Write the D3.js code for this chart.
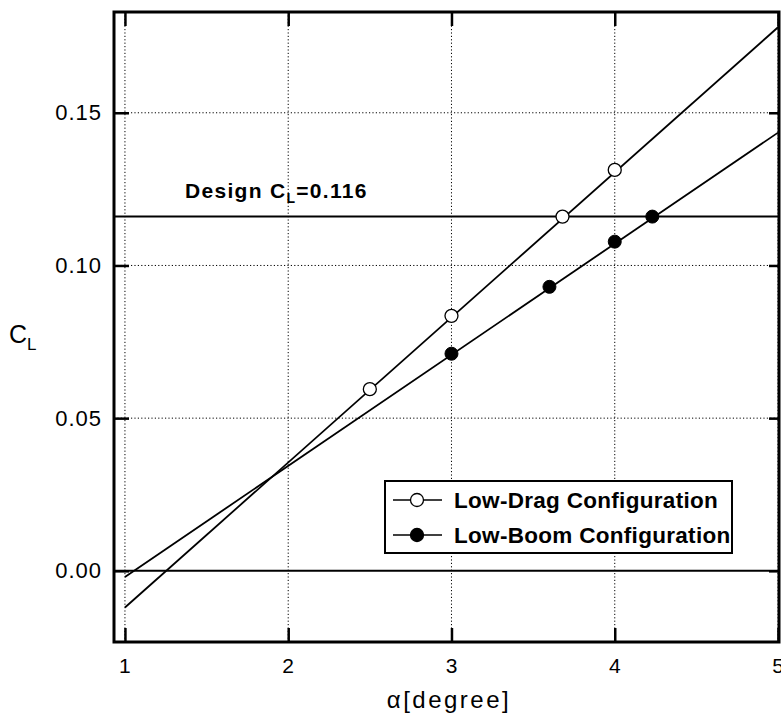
<!DOCTYPE html>
<html><head><meta charset="utf-8">
<script src="https://cdn.jsdelivr.net/npm/d3@7"></script>
<style>
body{margin:0;background:#fff;}
text{font-family:"Liberation Sans",Arial,Helvetica,sans-serif;fill:#000;}
</style></head>
<body>
<svg id="chart" width="781" height="716"></svg>
<script>
// ---- data ----
const xTicks = [1, 2, 3, 4, 5];
const yTicks = [0.00, 0.05, 0.10, 0.15];
const yTickLabels = ["0.00", "0.05", "0.10", "0.15"];
const lowDragAlpha = [2.5, 3.0, 3.68, 4.0];
const lowDragCL = [0.0595, 0.0835, 0.116, 0.1313];
const lowBoomAlpha = [3.0, 3.6, 4.0, 4.23];
const lowBoomCL = [0.0711, 0.093, 0.1078, 0.116];
const lowDragFitAlpha = [1, 5];
const lowDragFitCL = [-0.012, 0.178];
const lowBoomFitAlpha = [1, 5];
const lowBoomFitCL = [-0.002, 0.1435];
const designCL = 0.116;
const seriesNames = ["Low-Drag Configuration", "Low-Boom Configuration"];

// ---- layout ----
const svg = d3.select("#chart");
const L = 114, R = 779, T = 12, B = 642;
const x = d3.scaleLinear().domain([0.933, 5.006]).range([L, R]);
const y = d3.scaleLinear().domain([-0.0233, 0.183]).range([B, T]);

const g = svg.append("g");
svg.append("defs").append("clipPath").attr("id","clip")
  .append("rect").attr("x",L).attr("y",T).attr("width",R-L).attr("height",B-T);

// grid
g.selectAll(".gx").data(xTicks).enter().append("line")
  .attr("x1",d=>x(d)).attr("x2",d=>x(d)).attr("y1",T).attr("y2",B)
  .attr("stroke","#000").attr("stroke-width",1).attr("stroke-dasharray","1.2,2.2");
g.selectAll(".gy").data(yTicks.filter(d=>d!==0)).enter().append("line")
  .attr("x1",L).attr("x2",R).attr("y1",d=>y(d)).attr("y2",d=>y(d))
  .attr("stroke","#000").attr("stroke-width",1).attr("stroke-dasharray","1.2,2.2");

// zero line & design line
g.append("line").attr("x1",L).attr("x2",R).attr("y1",y(0)).attr("y2",y(0))
  .attr("stroke","#000").attr("stroke-width",2);
g.append("line").attr("x1",L).attr("x2",R).attr("y1",y(designCL)).attr("y2",y(designCL))
  .attr("stroke","#000").attr("stroke-width",2);

// fit lines
const line = d3.line().x(d=>x(d[0])).y(d=>y(d[1]));
const plot = g.append("g").attr("clip-path","url(#clip)");
plot.append("path").datum(lowDragFitAlpha.map((a,i)=>[a,lowDragFitCL[i]]))
  .attr("d",line).attr("fill","none").attr("stroke","#000").attr("stroke-width",1.8);
plot.append("path").datum(lowBoomFitAlpha.map((a,i)=>[a,lowBoomFitCL[i]]))
  .attr("d",line).attr("fill","none").attr("stroke","#000").attr("stroke-width",1.8);

// markers
plot.selectAll(".ld").data(lowDragAlpha.map((a,i)=>[a,lowDragCL[i]])).enter().append("circle")
  .attr("cx",d=>x(d[0])).attr("cy",d=>y(d[1])).attr("r",6.5)
  .attr("fill","#fff").attr("stroke","#000").attr("stroke-width",1.3);
plot.selectAll(".lb").data(lowBoomAlpha.map((a,i)=>[a,lowBoomCL[i]])).enter().append("circle")
  .attr("cx",d=>x(d[0])).attr("cy",d=>y(d[1])).attr("r",6.5)
  .attr("fill","#000").attr("stroke","#000").attr("stroke-width",1);

// axes via d3 (inward ticks, labels)
const xAxisB = d3.axisBottom(x).tickValues(xTicks).tickSize(-14).tickPadding(16).tickFormat(d3.format("d"));
const xAxisT = d3.axisTop(x).tickValues(xTicks).tickSize(-14).tickFormat("");
const yAxisL = d3.axisLeft(y).tickValues(yTicks).tickSize(-15).tickPadding(12).tickFormat((d,i)=>yTickLabels[i]);
const yAxisR = d3.axisRight(y).tickValues(yTicks).tickSize(-10).tickFormat("");
function styleAxis(sel, fs){
  sel.select(".domain").remove();
  sel.selectAll(".tick line").attr("stroke","#000").attr("stroke-width",2.5);
  sel.selectAll(".tick text").style("font-size",fs+"px").attr("fill","#000")
     .style("letter-spacing","1px")
     .style("font-family","'Liberation Sans',Arial,sans-serif");
}
svg.append("g").attr("transform",`translate(0,${B})`).call(xAxisB).call(styleAxis,21);
svg.append("g").attr("transform",`translate(0,${T})`).call(xAxisT).call(styleAxis,21);
svg.append("g").attr("transform",`translate(${L},0)`).call(yAxisL).call(styleAxis,22);
svg.append("g").attr("transform",`translate(${R},0)`).call(yAxisR).call(styleAxis,22);

// frame
svg.append("rect").attr("x",L).attr("y",T).attr("width",R-L).attr("height",B-T)
  .attr("fill","none").attr("stroke","#000").attr("stroke-width",3);

// design label
const dl = svg.append("text").attr("x",185).attr("y",198)
  .style("font-size","21px").style("font-weight","bold").style("letter-spacing","1.3px");
dl.append("tspan").text("Design C");
dl.append("tspan").text("L").attr("dy",5).style("font-size","14px");
dl.append("tspan").text("=0.116").attr("dy",-5);

// legend
const lg = svg.append("g");
lg.append("rect").attr("x",385).attr("y",481).attr("width",347).attr("height",72)
  .attr("fill","#fff").attr("stroke","#000").attr("stroke-width",2);
seriesNames.forEach((name,i)=>{
  const cy = 500 + i*35;
  lg.append("line").attr("x1",393).attr("x2",442).attr("y1",cy).attr("y2",cy)
    .attr("stroke","#000").attr("stroke-width",1.5);
  lg.append("circle").attr("cx",417).attr("cy",cy).attr("r",6.5)
    .attr("fill",i===0?"#fff":"#000").attr("stroke","#000").attr("stroke-width",1.3);
  lg.append("text").attr("x",454).attr("y",cy+8).text(name)
    .style("font-size","22.5px").style("font-weight","bold").style("letter-spacing","0.3px");
});

// axis titles
const yl = svg.append("text").attr("x",9).attr("y",343).style("font-size","25px");
yl.append("tspan").text("C");
yl.append("tspan").text("L").attr("dy",7).style("font-size","17px");
svg.append("text").attr("x",449).attr("y",708).attr("text-anchor","middle")
  .style("font-size","24px").style("letter-spacing","2.5px").text("α[degree]");
</script>
</body></html>
